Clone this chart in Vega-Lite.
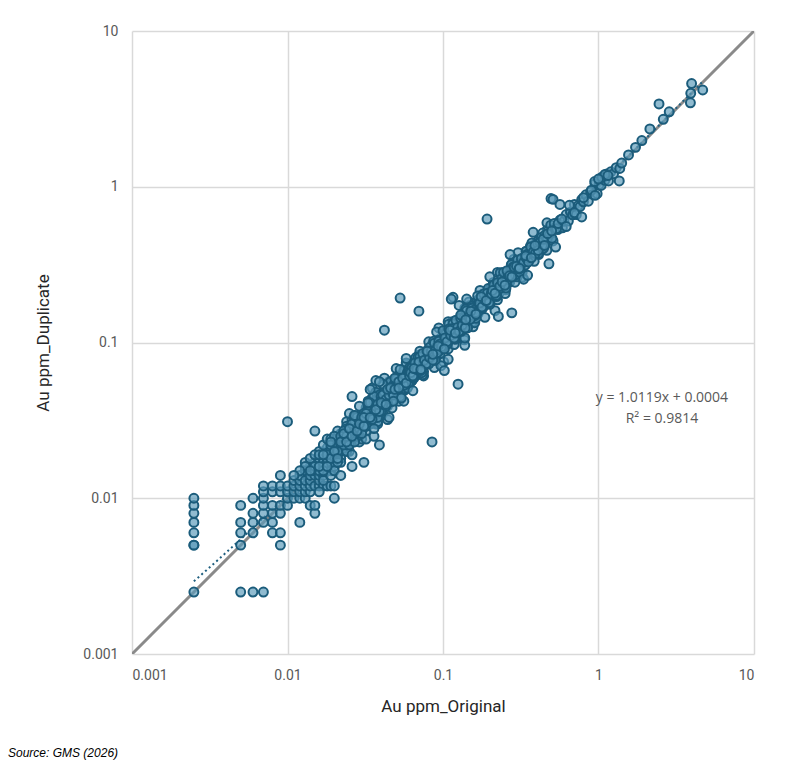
{
  "$schema": "https://vega.github.io/schema/vega-lite/v6.json",
  "width": 622,
  "height": 623,
  "autosize": {"type": "none"},
  "padding": {"left": 132, "top": 31, "right": 42, "bottom": 113},
  "background": "white",
  "title": {
    "text": "Source: GMS (2026)",
    "orient": "bottom",
    "anchor": "start",
    "frame": "group",
    "dx": -124,
    "offset": 34,
    "font": "Liberation Sans",
    "fontSize": 12,
    "fontStyle": "italic",
    "fontWeight": "normal",
    "color": "#000000"
  },
  "config": {
    "view": {"stroke": null},
    "axis": {
      "domain": false,
      "ticks": false,
      "grid": true,
      "gridColor": "#d9d9d9",
      "gridWidth": 1.5,
      "labelFont": "Roboto",
      "labelFontSize": 14,
      "labelColor": "#595959",
      "titleFont": "Roboto",
      "titleFontSize": 17,
      "titleFontWeight": "normal",
      "titleColor": "#262626"
    }
  },
  "datasets": {
    "pts": [
      {"x":0.0025,"y":0.0025},{"x":0.0025,"y":0.005},{"x":0.0025,"y":0.005},{"x":0.0025,"y":0.006},{"x":0.0025,"y":0.007},{"x":0.0025,"y":0.008},{"x":0.0025,"y":0.009},{"x":0.0025,"y":0.01},
      {"x":0.005,"y":0.0025},{"x":0.005,"y":0.005},{"x":0.005,"y":0.006},{"x":0.005,"y":0.007},{"x":0.005,"y":0.009},
      {"x":0.006,"y":0.0025},{"x":0.006,"y":0.006},{"x":0.006,"y":0.007},{"x":0.006,"y":0.008},{"x":0.006,"y":0.01},
      {"x":0.007,"y":0.0025},{"x":0.007,"y":0.007},{"x":0.007,"y":0.008},{"x":0.007,"y":0.009},{"x":0.007,"y":0.01},{"x":0.007,"y":0.011},{"x":0.007,"y":0.012},
      {"x":0.008,"y":0.006},{"x":0.008,"y":0.007},{"x":0.008,"y":0.008},{"x":0.008,"y":0.009},{"x":0.008,"y":0.011},{"x":0.008,"y":0.012},
      {"x":0.009,"y":0.005},{"x":0.009,"y":0.006},{"x":0.009,"y":0.008},{"x":0.009,"y":0.009},{"x":0.009,"y":0.011},{"x":0.009,"y":0.012},{"x":0.009,"y":0.014},
      {"x":0.01,"y":0.009},{"x":0.01,"y":0.01},{"x":0.01,"y":0.011},{"x":0.01,"y":0.012},{"x":0.01,"y":0.031},
      {"x":0.011,"y":0.01},{"x":0.011,"y":0.011},{"x":0.011,"y":0.012},{"x":0.011,"y":0.013},
      {"x":0.012,"y":0.007},{"x":0.012,"y":0.01},{"x":0.012,"y":0.011},{"x":0.012,"y":0.012},{"x":0.012,"y":0.013},{"x":0.012,"y":0.014},
      {"x":0.013,"y":0.01},{"x":0.013,"y":0.011},{"x":0.013,"y":0.012},{"x":0.013,"y":0.013},{"x":0.013,"y":0.015},
      {"x":0.014,"y":0.009},{"x":0.014,"y":0.011},{"x":0.014,"y":0.012},{"x":0.014,"y":0.013},{"x":0.014,"y":0.014},{"x":0.014,"y":0.016},
      {"x":0.015,"y":0.008},{"x":0.015,"y":0.009},{"x":0.015,"y":0.012},{"x":0.015,"y":0.014},{"x":0.015,"y":0.015},{"x":0.015,"y":0.017},{"x":0.015,"y":0.027},
      {"x":0.016,"y":0.012},{"x":0.016,"y":0.013},{"x":0.016,"y":0.014},{"x":0.016,"y":0.016},{"x":0.016,"y":0.018},
      {"x":0.017,"y":0.012},{"x":0.017,"y":0.014},{"x":0.017,"y":0.015},{"x":0.017,"y":0.017},{"x":0.017,"y":0.019},
      {"x":0.018,"y":0.012},{"x":0.018,"y":0.015},{"x":0.018,"y":0.016},{"x":0.018,"y":0.018},{"x":0.018,"y":0.02},{"x":0.018,"y":0.021},
      {"x":0.019,"y":0.012},{"x":0.019,"y":0.015},{"x":0.019,"y":0.017},{"x":0.019,"y":0.019},{"x":0.019,"y":0.021},
      {"x":0.02,"y":0.01},{"x":0.02,"y":0.012},{"x":0.02,"y":0.018},{"x":0.02,"y":0.02},{"x":0.02,"y":0.022},{"x":0.02,"y":0.025},
      {"x":0.013,"y":0.017},{"x":0.014,"y":0.018},{"x":0.016,"y":0.02},{"x":0.017,"y":0.022},{"x":0.018,"y":0.024},{"x":0.019,"y":0.024},{"x":0.02,"y":0.016},{"x":0.021,"y":0.018},{"x":0.021,"y":0.025},{"x":0.016,"y":0.011},
      {"x":0.017,"y":0.013},{"x":0.019,"y":0.014},{"x":0.013,"y":0.016},{"x":0.012,"y":0.015},{"x":0.011,"y":0.014},{"x":0.015,"y":0.019},{"x":0.02,"y":0.015},{"x":0.022,"y":0.018},{"x":0.023,"y":0.027},{"x":0.024,"y":0.031},
      {"x":0.025,"y":0.02},{"x":0.026,"y":0.032},{"x":0.019,"y":0.022},
      {"x":0.021,"y":0.02},{"x":0.022,"y":0.021},{"x":0.023,"y":0.023},{"x":0.024,"y":0.024},{"x":0.025,"y":0.026},{"x":0.026,"y":0.027},{"x":0.027,"y":0.026},{"x":0.028,"y":0.029},{"x":0.029,"y":0.031},{"x":0.03,"y":0.029},
      {"x":0.025,"y":0.025},{"x":0.023,"y":0.025},{"x":0.027,"y":0.025},{"x":0.029,"y":0.027},{"x":0.032,"y":0.031},{"x":0.018,"y":0.017},{"x":0.017,"y":0.016},{"x":0.016,"y":0.015},{"x":0.015,"y":0.016},{"x":0.014,"y":0.015},
      {"x":0.022,"y":0.026},{"x":0.024,"y":0.022},
      {"x":0.021,"y":0.021},{"x":0.022,"y":0.025},{"x":0.022,"y":0.02},{"x":0.023,"y":0.024},{"x":0.023,"y":0.022},{"x":0.024,"y":0.029},{"x":0.024,"y":0.02},{"x":0.025,"y":0.027},{"x":0.025,"y":0.024},{"x":0.026,"y":0.03},
      {"x":0.026,"y":0.023},{"x":0.027,"y":0.028},{"x":0.027,"y":0.034},{"x":0.028,"y":0.026},{"x":0.028,"y":0.031},{"x":0.029,"y":0.023},{"x":0.029,"y":0.029},{"x":0.03,"y":0.034},{"x":0.03,"y":0.027},{"x":0.031,"y":0.033},
      {"x":0.031,"y":0.029},{"x":0.032,"y":0.038},{"x":0.032,"y":0.027},{"x":0.033,"y":0.036},{"x":0.033,"y":0.032},{"x":0.034,"y":0.039},{"x":0.034,"y":0.03},{"x":0.035,"y":0.036},{"x":0.035,"y":0.044},{"x":0.036,"y":0.033},
      {"x":0.036,"y":0.04},{"x":0.037,"y":0.03},{"x":0.037,"y":0.037},{"x":0.038,"y":0.043},{"x":0.038,"y":0.034},{"x":0.039,"y":0.041},{"x":0.04,"y":0.038},{"x":0.04,"y":0.048},{"x":0.041,"y":0.035},{"x":0.042,"y":0.045},
      {"x":0.042,"y":0.041},{"x":0.043,"y":0.049},{"x":0.044,"y":0.039},{"x":0.044,"y":0.045},{"x":0.045,"y":0.056},{"x":0.046,"y":0.042},{"x":0.046,"y":0.051},{"x":0.047,"y":0.038},{"x":0.048,"y":0.048},{"x":0.048,"y":0.054},
      {"x":0.049,"y":0.044},{"x":0.05,"y":0.052},{"x":0.05,"y":0.048},{"x":0.051,"y":0.061},{"x":0.052,"y":0.044},{"x":0.053,"y":0.057},{"x":0.054,"y":0.052},{"x":0.055,"y":0.063},{"x":0.056,"y":0.049},{"x":0.057,"y":0.059},
      {"x":0.058,"y":0.072},{"x":0.059,"y":0.054},{"x":0.06,"y":0.066},
      {"x":0.021,"y":0.022},{"x":0.023,"y":0.021},{"x":0.024,"y":0.028},{"x":0.026,"y":0.026},{"x":0.027,"y":0.029},{"x":0.029,"y":0.025},{"x":0.03,"y":0.03},{"x":0.032,"y":0.036},{"x":0.033,"y":0.031},{"x":0.035,"y":0.037},
      {"x":0.036,"y":0.033},{"x":0.038,"y":0.045},{"x":0.039,"y":0.038},{"x":0.041,"y":0.045},{"x":0.043,"y":0.041},{"x":0.045,"y":0.046},{"x":0.047,"y":0.049},{"x":0.049,"y":0.046},{"x":0.051,"y":0.059},{"x":0.053,"y":0.052},
      {"x":0.055,"y":0.059},{"x":0.057,"y":0.05},{"x":0.059,"y":0.06},{"x":0.062,"y":0.07},{"x":0.064,"y":0.06},{"x":0.066,"y":0.07},{"x":0.068,"y":0.062},{"x":0.07,"y":0.083},
      {"x":0.021,"y":0.027},{"x":0.022,"y":0.017},{"x":0.023,"y":0.027},{"x":0.024,"y":0.02},{"x":0.025,"y":0.035},{"x":0.026,"y":0.019},{"x":0.027,"y":0.033},{"x":0.028,"y":0.025},{"x":0.029,"y":0.039},{"x":0.03,"y":0.024},
      {"x":0.031,"y":0.035},{"x":0.032,"y":0.024},{"x":0.033,"y":0.042},{"x":0.034,"y":0.03},{"x":0.035,"y":0.051},{"x":0.036,"y":0.025},{"x":0.037,"y":0.048},{"x":0.038,"y":0.03},{"x":0.039,"y":0.046},{"x":0.04,"y":0.034},
      {"x":0.042,"y":0.059},{"x":0.044,"y":0.032},{"x":0.046,"y":0.056},{"x":0.048,"y":0.043},{"x":0.05,"y":0.068},{"x":0.052,"y":0.042},{"x":0.054,"y":0.06},{"x":0.056,"y":0.042},{"x":0.058,"y":0.074},{"x":0.06,"y":0.053},
      {"x":0.022,"y":0.022},{"x":0.024,"y":0.025},{"x":0.025,"y":0.024},{"x":0.027,"y":0.031},{"x":0.028,"y":0.025},{"x":0.03,"y":0.031},{"x":0.031,"y":0.03},{"x":0.033,"y":0.036},{"x":0.034,"y":0.032},{"x":0.036,"y":0.042},
      {"x":0.037,"y":0.037},{"x":0.039,"y":0.041},{"x":0.04,"y":0.038},{"x":0.042,"y":0.047},{"x":0.043,"y":0.039},{"x":0.045,"y":0.046},{"x":0.047,"y":0.046},{"x":0.049,"y":0.053},{"x":0.05,"y":0.047},{"x":0.052,"y":0.06},
      {"x":0.054,"y":0.054},{"x":0.056,"y":0.059},{"x":0.058,"y":0.055},{"x":0.061,"y":0.069},{"x":0.063,"y":0.057},
      {"x":0.021,"y":0.02},{"x":0.022,"y":0.024},{"x":0.023,"y":0.023},{"x":0.024,"y":0.022},{"x":0.025,"y":0.028},{"x":0.026,"y":0.025},{"x":0.027,"y":0.028},{"x":0.028,"y":0.026},{"x":0.029,"y":0.028},{"x":0.03,"y":0.032},
      {"x":0.031,"y":0.031},{"x":0.032,"y":0.029},{"x":0.033,"y":0.037},{"x":0.034,"y":0.033},{"x":0.035,"y":0.036},{"x":0.036,"y":0.033},{"x":0.037,"y":0.036},{"x":0.038,"y":0.041},{"x":0.039,"y":0.039},{"x":0.04,"y":0.036},
      {"x":0.041,"y":0.046},{"x":0.042,"y":0.041},{"x":0.043,"y":0.045},{"x":0.044,"y":0.041},{"x":0.045,"y":0.043},{"x":0.046,"y":0.049},{"x":0.047,"y":0.047},{"x":0.048,"y":0.043},{"x":0.049,"y":0.055},{"x":0.05,"y":0.049},
      {"x":0.052,"y":0.054},{"x":0.054,"y":0.05},{"x":0.056,"y":0.054},{"x":0.058,"y":0.062},{"x":0.06,"y":0.061},{"x":0.062,"y":0.056},{"x":0.064,"y":0.072},{"x":0.066,"y":0.065},{"x":0.068,"y":0.071},{"x":0.07,"y":0.065},
      {"x":0.072,"y":0.069},{"x":0.075,"y":0.08},{"x":0.078,"y":0.079},{"x":0.081,"y":0.073},{"x":0.084,"y":0.094},{"x":0.087,"y":0.085},{"x":0.09,"y":0.094},{"x":0.093,"y":0.086},{"x":0.096,"y":0.092},{"x":0.099,"y":0.106},
      {"x":0.104,"y":0.109},{"x":0.108,"y":0.102},{"x":0.113,"y":0.124},{"x":0.117,"y":0.116},{"x":0.122,"y":0.111},{"x":0.127,"y":0.131},{"x":0.132,"y":0.149},{"x":0.137,"y":0.133},{"x":0.143,"y":0.15},{"x":0.149,"y":0.14},
      {"x":0.155,"y":0.171},{"x":0.161,"y":0.159},{"x":0.168,"y":0.153},{"x":0.174,"y":0.179},{"x":0.181,"y":0.205},{"x":0.189,"y":0.183},{"x":0.196,"y":0.206},{"x":0.204,"y":0.192},{"x":0.213,"y":0.234},{"x":0.221,"y":0.219},
      {"x":0.23,"y":0.209},{"x":0.24,"y":0.247},{"x":0.249,"y":0.281},{"x":0.26,"y":0.252},{"x":0.27,"y":0.284},{"x":0.281,"y":0.264},{"x":0.292,"y":0.321},{"x":0.304,"y":0.301},{"x":0.316,"y":0.288},{"x":0.329,"y":0.339},
      {"x":0.342,"y":0.386},{"x":0.356,"y":0.345},{"x":0.37,"y":0.389},{"x":0.385,"y":0.362},{"x":0.4,"y":0.44},{"x":0.417,"y":0.413},{"x":0.433,"y":0.394},{"x":0.451,"y":0.465},{"x":0.469,"y":0.53},{"x":0.488,"y":0.473},
      {"x":0.016,"y":0.019},{"x":0.017,"y":0.015},{"x":0.018,"y":0.019},{"x":0.019,"y":0.018},{"x":0.02,"y":0.025},{"x":0.021,"y":0.017},{"x":0.022,"y":0.025},{"x":0.023,"y":0.022},{"x":0.024,"y":0.025},{"x":0.025,"y":0.022},
      {"x":0.026,"y":0.03},{"x":0.027,"y":0.023},{"x":0.028,"y":0.033},{"x":0.03,"y":0.026},{"x":0.032,"y":0.034},{"x":0.034,"y":0.032},{"x":0.036,"y":0.045},{"x":0.038,"y":0.031},{"x":0.04,"y":0.045},{"x":0.042,"y":0.04},
      {"x":0.044,"y":0.045},{"x":0.047,"y":0.042},{"x":0.05,"y":0.058},{"x":0.053,"y":0.045},{"x":0.056,"y":0.066},{"x":0.059,"y":0.051},{"x":0.063,"y":0.067},{"x":0.067,"y":0.062},{"x":0.071,"y":0.088},{"x":0.075,"y":0.061},
      {"x":0.08,"y":0.09},{"x":0.085,"y":0.082},{"x":0.09,"y":0.093},{"x":0.096,"y":0.085},{"x":0.102,"y":0.117},{"x":0.108,"y":0.091},{"x":0.115,"y":0.136},{"x":0.122,"y":0.105},{"x":0.13,"y":0.139},{"x":0.138,"y":0.128},
      {"x":0.147,"y":0.182},{"x":0.156,"y":0.126},{"x":0.166,"y":0.186},{"x":0.176,"y":0.169},{"x":0.187,"y":0.193},{"x":0.199,"y":0.177},{"x":0.211,"y":0.243},{"x":0.224,"y":0.188},{"x":0.238,"y":0.281},{"x":0.253,"y":0.218},
      {"x":0.269,"y":0.288},{"x":0.286,"y":0.266},{"x":0.304,"y":0.377},{"x":0.323,"y":0.262},{"x":0.343,"y":0.384},{"x":0.365,"y":0.35},{"x":0.388,"y":0.4},{"x":0.412,"y":0.367},{"x":0.438,"y":0.504},{"x":0.466,"y":0.391},
      {"x":0.016,"y":0.016},{"x":0.017,"y":0.019},{"x":0.018,"y":0.016},{"x":0.019,"y":0.023},{"x":0.02,"y":0.02},{"x":0.021,"y":0.018},{"x":0.022,"y":0.023},{"x":0.023,"y":0.026},{"x":0.024,"y":0.023},{"x":0.025,"y":0.028},
      {"x":0.026,"y":0.025},{"x":0.027,"y":0.034},{"x":0.028,"y":0.027},{"x":0.03,"y":0.033},{"x":0.032,"y":0.029},{"x":0.034,"y":0.041},{"x":0.036,"y":0.036},{"x":0.038,"y":0.033},{"x":0.04,"y":0.042},{"x":0.042,"y":0.048},
      {"x":0.044,"y":0.041},{"x":0.047,"y":0.052},{"x":0.05,"y":0.049},{"x":0.053,"y":0.067},{"x":0.056,"y":0.054},{"x":0.059,"y":0.064},{"x":0.063,"y":0.057},{"x":0.067,"y":0.08},{"x":0.071,"y":0.072},{"x":0.075,"y":0.065},
      {"x":0.08,"y":0.084},{"x":0.085,"y":0.097},{"x":0.09,"y":0.085},{"x":0.096,"y":0.106},{"x":0.102,"y":0.1},{"x":0.108,"y":0.136},{"x":0.115,"y":0.112},{"x":0.122,"y":0.133},{"x":0.13,"y":0.118},{"x":0.138,"y":0.166},
      {"x":0.147,"y":0.148},{"x":0.156,"y":0.136},{"x":0.166,"y":0.174},{"x":0.176,"y":0.201},{"x":0.187,"y":0.176},{"x":0.199,"y":0.219},{"x":0.211,"y":0.207},{"x":0.224,"y":0.282},{"x":0.238,"y":0.231},{"x":0.253,"y":0.276},
      {"x":0.269,"y":0.245},{"x":0.286,"y":0.343},{"x":0.304,"y":0.307},{"x":0.323,"y":0.281},{"x":0.343,"y":0.36},{"x":0.365,"y":0.416},{"x":0.388,"y":0.365},{"x":0.412,"y":0.453},{"x":0.438,"y":0.429},{"x":0.466,"y":0.587},
      {"x":0.029,"y":0.03},{"x":0.031,"y":0.029},{"x":0.033,"y":0.036},{"x":0.035,"y":0.035},{"x":0.037,"y":0.039},{"x":0.039,"y":0.036},{"x":0.041,"y":0.046},{"x":0.043,"y":0.043},{"x":0.045,"y":0.046},{"x":0.048,"y":0.046},
      {"x":0.051,"y":0.055},{"x":0.054,"y":0.053},{"x":0.057,"y":0.06},{"x":0.06,"y":0.055},{"x":0.065,"y":0.072},{"x":0.069,"y":0.069},{"x":0.073,"y":0.074},{"x":0.077,"y":0.073},{"x":0.082,"y":0.089},{"x":0.087,"y":0.086},
      {"x":0.093,"y":0.098},{"x":0.099,"y":0.091},{"x":0.105,"y":0.117},{"x":0.112,"y":0.112},{"x":0.119,"y":0.121},{"x":0.126,"y":0.12},{"x":0.134,"y":0.145},{"x":0.143,"y":0.142},{"x":0.152,"y":0.16},{"x":0.161,"y":0.148},
      {"x":0.171,"y":0.19},{"x":0.182,"y":0.182},{"x":0.194,"y":0.198},{"x":0.206,"y":0.196},{"x":0.218,"y":0.235},{"x":0.232,"y":0.23},{"x":0.246,"y":0.258},{"x":0.262,"y":0.241},{"x":0.278,"y":0.309},{"x":0.296,"y":0.296},
      {"x":0.033,"y":0.041},{"x":0.036,"y":0.028},{"x":0.041,"y":0.054},{"x":0.045,"y":0.033},{"x":0.049,"y":0.059},{"x":0.054,"y":0.044},{"x":0.058,"y":0.079},{"x":0.064,"y":0.049},{"x":0.069,"y":0.08},{"x":0.074,"y":0.062},
      {"x":0.081,"y":0.101},{"x":0.088,"y":0.069},{"x":0.094,"y":0.124},{"x":0.101,"y":0.075},{"x":0.109,"y":0.131},{"x":0.118,"y":0.097},{"x":0.127,"y":0.173},{"x":0.137,"y":0.104},{"x":0.148,"y":0.172},{"x":0.16,"y":0.134},
      {"x":0.173,"y":0.216},{"x":0.186,"y":0.145},{"x":0.2,"y":0.264},{"x":0.216,"y":0.16},{"x":0.233,"y":0.28},{"x":0.251,"y":0.206},{"x":0.27,"y":0.367},{"x":0.29,"y":0.244},
      {"x":0.032,"y":0.035},{"x":0.035,"y":0.032},{"x":0.038,"y":0.04},{"x":0.041,"y":0.04},{"x":0.044,"y":0.05},{"x":0.048,"y":0.042},{"x":0.052,"y":0.056},{"x":0.056,"y":0.053},{"x":0.06,"y":0.066},{"x":0.065,"y":0.059},
      {"x":0.07,"y":0.073},{"x":0.076,"y":0.074},{"x":0.082,"y":0.093},{"x":0.088,"y":0.077},{"x":0.095,"y":0.102},{"x":0.103,"y":0.097},{"x":0.111,"y":0.122},{"x":0.12,"y":0.109},{"x":0.13,"y":0.135},{"x":0.14,"y":0.136},
      {"x":0.151,"y":0.172},{"x":0.163,"y":0.143},{"x":0.176,"y":0.188},{"x":0.19,"y":0.179},{"x":0.205,"y":0.226},{"x":0.221,"y":0.201},{"x":0.238,"y":0.248},{"x":0.257,"y":0.249},{"x":0.277,"y":0.316},{"x":0.3,"y":0.264},
      {"x":0.325,"y":0.348},{"x":0.35,"y":0.329},{"x":0.38,"y":0.418},{"x":0.41,"y":0.373},{"x":0.44,"y":0.458},{"x":0.48,"y":0.466},
      {"x":0.031,"y":0.033},{"x":0.034,"y":0.033},{"x":0.037,"y":0.037},{"x":0.04,"y":0.041},{"x":0.043,"y":0.04},{"x":0.046,"y":0.051},{"x":0.049,"y":0.05},{"x":0.052,"y":0.051},{"x":0.055,"y":0.059},{"x":0.058,"y":0.055},
      {"x":0.061,"y":0.065},{"x":0.064,"y":0.062},{"x":0.067,"y":0.067},{"x":0.07,"y":0.072},{"x":0.074,"y":0.07},{"x":0.078,"y":0.086},{"x":0.082,"y":0.084},{"x":0.086,"y":0.085},{"x":0.09,"y":0.097},{"x":0.095,"y":0.09},
      {"x":0.1,"y":0.106},{"x":0.105,"y":0.102},{"x":0.11,"y":0.11},{"x":0.116,"y":0.119},{"x":0.122,"y":0.115},{"x":0.128,"y":0.141},{"x":0.135,"y":0.138},{"x":0.142,"y":0.141},{"x":0.15,"y":0.162},
      {"x":0.026,"y":0.045},{"x":0.034,"y":0.05},{"x":0.031,"y":0.017},{"x":0.026,"y":0.016},{"x":0.022,"y":0.014},{"x":0.039,"y":0.022},{"x":0.042,"y":0.12},{"x":0.053,"y":0.193},{"x":0.07,"y":0.159},{"x":0.037,"y":0.057},
      {"x":0.039,"y":0.056},{"x":0.085,"y":0.023},{"x":0.125,"y":0.054},{"x":0.097,"y":0.071},{"x":0.102,"y":0.066},{"x":0.108,"y":0.078},{"x":0.138,"y":0.096},{"x":0.138,"y":0.107},{"x":0.091,"y":0.117},
      {"x":0.061,"y":0.061},{"x":0.063,"y":0.069},{"x":0.065,"y":0.06},{"x":0.067,"y":0.07},{"x":0.069,"y":0.066},{"x":0.071,"y":0.081},{"x":0.073,"y":0.064},{"x":0.075,"y":0.077},{"x":0.077,"y":0.075},{"x":0.079,"y":0.088},
      {"x":0.081,"y":0.073},{"x":0.083,"y":0.088},{"x":0.085,"y":0.08},{"x":0.087,"y":0.102},{"x":0.089,"y":0.077},{"x":0.091,"y":0.094},{"x":0.093,"y":0.09},{"x":0.095,"y":0.103},{"x":0.097,"y":0.09},{"x":0.099,"y":0.1},
      {"x":0.101,"y":0.101},{"x":0.104,"y":0.113},{"x":0.107,"y":0.098},{"x":0.11,"y":0.116},{"x":0.113,"y":0.108},{"x":0.116,"y":0.132},{"x":0.119,"y":0.105},{"x":0.122,"y":0.124},{"x":0.125,"y":0.123},{"x":0.128,"y":0.142},
      {"x":0.131,"y":0.118},{"x":0.134,"y":0.142},{"x":0.137,"y":0.129},{"x":0.14,"y":0.164},{"x":0.144,"y":0.124},{"x":0.148,"y":0.152},{"x":0.152,"y":0.147},{"x":0.156,"y":0.168},{"x":0.16,"y":0.149},{"x":0.165,"y":0.167},
      {"x":0.17,"y":0.17},{"x":0.175,"y":0.191},{"x":0.18,"y":0.166},{"x":0.185,"y":0.194},{"x":0.19,"y":0.182},{"x":0.195,"y":0.222},{"x":0.2,"y":0.176},
      {"x":0.062,"y":0.064},{"x":0.064,"y":0.061},{"x":0.066,"y":0.074},{"x":0.068,"y":0.067},{"x":0.07,"y":0.075},{"x":0.072,"y":0.066},{"x":0.074,"y":0.085},{"x":0.076,"y":0.077},{"x":0.078,"y":0.073},{"x":0.08,"y":0.088},
      {"x":0.082,"y":0.08},{"x":0.084,"y":0.088},{"x":0.086,"y":0.077},{"x":0.088,"y":0.099},{"x":0.09,"y":0.09},{"x":0.092,"y":0.086},{"x":0.094,"y":0.102},{"x":0.096,"y":0.098},{"x":0.098,"y":0.094},{"x":0.1,"y":0.119},
      {"x":0.103,"y":0.107},{"x":0.106,"y":0.101},{"x":0.109,"y":0.122},{"x":0.112,"y":0.111},{"x":0.115,"y":0.123},{"x":0.118,"y":0.107},{"x":0.121,"y":0.139},{"x":0.124,"y":0.125},{"x":0.127,"y":0.118},{"x":0.13,"y":0.143},
      {"x":0.133,"y":0.129},{"x":0.136,"y":0.143},{"x":0.139,"y":0.124},{"x":0.142,"y":0.16},{"x":0.146,"y":0.146},{"x":0.15,"y":0.141},{"x":0.154,"y":0.166},{"x":0.158,"y":0.161},{"x":0.162,"y":0.156},{"x":0.167,"y":0.199},
      {"x":0.172,"y":0.179},{"x":0.178,"y":0.169},{"x":0.183,"y":0.205},{"x":0.188,"y":0.186},{"x":0.193,"y":0.207},{"x":0.198,"y":0.18},
      {"x":0.065,"y":0.068},{"x":0.072,"y":0.067},{"x":0.079,"y":0.088},{"x":0.086,"y":0.084},{"x":0.093,"y":0.095},{"x":0.102,"y":0.091},{"x":0.111,"y":0.12},{"x":0.12,"y":0.115},{"x":0.13,"y":0.15},{"x":0.14,"y":0.14},
      {"x":0.151,"y":0.159},{"x":0.163,"y":0.152},{"x":0.176,"y":0.197},{"x":0.19,"y":0.186},{"x":0.205,"y":0.209},{"x":0.221,"y":0.197},{"x":0.238,"y":0.257},{"x":0.256,"y":0.246},{"x":0.275,"y":0.316},{"x":0.295,"y":0.295},
      {"x":0.316,"y":0.332},{"x":0.338,"y":0.314},
      {"x":0.116,"y":0.195},{"x":0.113,"y":0.19},{"x":0.142,"y":0.19},{"x":0.192,"y":0.62},
      {"x":0.205,"y":0.205},{"x":0.212,"y":0.233},{"x":0.22,"y":0.2},{"x":0.228,"y":0.239},{"x":0.236,"y":0.224},{"x":0.245,"y":0.282},{"x":0.254,"y":0.224},{"x":0.263,"y":0.271},{"x":0.272,"y":0.264},{"x":0.282,"y":0.305},
      {"x":0.292,"y":0.272},{"x":0.302,"y":0.338},{"x":0.313,"y":0.282},{"x":0.324,"y":0.33},{"x":0.336,"y":0.329},{"x":0.348,"y":0.369},{"x":0.36,"y":0.338},{"x":0.373,"y":0.436},{"x":0.386,"y":0.332},{"x":0.4,"y":0.404},
      {"x":0.414,"y":0.414},{"x":0.429,"y":0.472},{"x":0.444,"y":0.404},{"x":0.46,"y":0.483},{"x":0.476,"y":0.452},{"x":0.493,"y":0.567},{"x":0.51,"y":0.449},{"x":0.528,"y":0.544},{"x":0.547,"y":0.531},{"x":0.566,"y":0.611},
      {"x":0.586,"y":0.545},
      {"x":0.208,"y":0.216},{"x":0.216,"y":0.207},{"x":0.224,"y":0.242},{"x":0.232,"y":0.23},{"x":0.24,"y":0.245},{"x":0.25,"y":0.233},{"x":0.258,"y":0.289},{"x":0.268,"y":0.268},{"x":0.277,"y":0.263},{"x":0.287,"y":0.304},
      {"x":0.297,"y":0.309},{"x":0.308,"y":0.296},{"x":0.319,"y":0.345},{"x":0.33,"y":0.327},{"x":0.342,"y":0.349},{"x":0.354,"y":0.329},{"x":0.367,"y":0.411},{"x":0.38,"y":0.38},{"x":0.393,"y":0.373},{"x":0.407,"y":0.431},
      {"x":0.421,"y":0.438},{"x":0.436,"y":0.419},{"x":0.452,"y":0.488},{"x":0.468,"y":0.463},{"x":0.485,"y":0.495},{"x":0.502,"y":0.467},{"x":0.519,"y":0.581},{"x":0.537,"y":0.537},
      {"x":0.31,"y":0.3},{"x":0.34,"y":0.36},{"x":0.37,"y":0.35},{"x":0.41,"y":0.39},{"x":0.44,"y":0.46},{"x":0.47,"y":0.5},{"x":0.5,"y":0.52},{"x":0.55,"y":0.58},{"x":0.45,"y":0.42},{"x":0.39,"y":0.42},
      {"x":0.227,"y":0.147},{"x":0.277,"y":0.155},{"x":0.48,"y":0.32},{"x":0.495,"y":0.84},{"x":0.51,"y":0.83},{"x":0.565,"y":0.77},{"x":0.38,"y":0.51},{"x":0.53,"y":0.41},{"x":0.33,"y":0.255},{"x":0.35,"y":0.27},
      {"x":0.6,"y":0.6},{"x":0.62,"y":0.663},{"x":0.64,"y":0.602},{"x":0.66,"y":0.686},{"x":0.68,"y":0.66},{"x":0.7,"y":0.77},{"x":0.72,"y":0.662},{"x":0.74,"y":0.755},{"x":0.76,"y":0.745},{"x":0.78,"y":0.827},
      {"x":0.8,"y":0.8},{"x":0.83,"y":0.888},{"x":0.86,"y":0.808},{"x":0.89,"y":0.926},{"x":0.92,"y":0.892},{"x":0.95,"y":1.045},{"x":0.98,"y":0.902},{"x":1.01,"y":1.03},{"x":1.04,"y":1.019},{"x":1.07,"y":1.134},
      {"x":1.1,"y":1.1},{"x":1.13,"y":1.209},{"x":1.16,"y":1.09},{"x":1.2,"y":1.248},{"x":1.25,"y":1.213},{"x":1.3,"y":1.326},
      {"x":0.65,"y":0.76},{"x":0.9,"y":0.95},{"x":0.95,"y":0.88},{"x":0.945,"y":1.08},{"x":1.36,"y":1.09},{"x":1.37,"y":1.31},{"x":1.41,"y":1.42},{"x":1.56,"y":1.6},{"x":1.73,"y":1.79},{"x":1.9,"y":1.98},
      {"x":2.14,"y":2.35},{"x":2.45,"y":3.4},{"x":2.61,"y":2.71},{"x":2.85,"y":3.03},{"x":3.9,"y":3.46},{"x":3.92,"y":3.98},{"x":3.97,"y":4.6},{"x":4.68,"y":4.18},{"x":1.05,"y":1.15},{"x":1.1,"y":1.2},
      {"x":1.15,"y":1.18},{"x":1.0,"y":1.12},{"x":0.58,"y":0.62},{"x":0.7,"y":0.68},{"x":0.8,"y":0.85},{"x":0.78,"y":0.64},{"x":0.62,"y":0.555}
    ],
    "oneone": [{"x":0.001,"y":0.001},{"x":10,"y":10}],
    "trend": [
      {"x":0.0025,"y":0.00293},{"x":0.003,"y":0.00344},{"x":0.004,"y":0.00445},{"x":0.005,"y":0.00546},{"x":0.007,"y":0.00748},
      {"x":0.01,"y":0.01052},{"x":0.02,"y":0.02064},{"x":0.05,"y":0.051},{"x":0.1,"y":0.10159},{"x":0.5,"y":0.5064},{"x":1,"y":1.0123},{"x":4.7,"y":4.7563}
    ],
    "eq": [
      {"x":2.56,"y":0.044,"label":"y = 1.0119x + 0.0004"},
      {"x":2.56,"y":0.0323,"label":"R² = 0.9814"}
    ]
  },
  "encoding": {
    "x": {
      "field": "x", "type": "quantitative",
      "scale": {"type": "log", "domain": [0.001, 10], "nice": false},
      "axis": {"values": [0.001, 0.01, 0.1, 1, 10], "format": "~g", "title": "Au ppm_Original", "labelPadding": 14, "titlePadding": 16}
    },
    "y": {
      "field": "y", "type": "quantitative",
      "scale": {"type": "log", "domain": [0.001, 10], "nice": false},
      "axis": {"values": [0.001, 0.01, 0.1, 1, 10], "format": "~g", "title": "Au ppm_Duplicate", "labelPadding": 14, "titlePadding": 30}
    }
  },
  "layer": [
    {
      "data": {"name": "oneone"},
      "mark": {"type": "line", "color": "#8a8a8a", "strokeWidth": 3, "clip": true},
      "encoding": {}
    },
    {
      "data": {"name": "trend"},
      "mark": {"type": "line", "color": "#1f5f7f", "strokeWidth": 2, "strokeDash": [2, 3], "interpolate": "monotone"},
      "encoding": {}
    },
    {
      "data": {"name": "pts"},
      "mark": {"type": "point", "shape": "circle", "filled": true, "size": 80, "fill": "#5c9bb9", "fillOpacity": 0.68, "stroke": "#1b5c7b", "strokeWidth": 2},
      "encoding": {}
    },
    {
      "data": {"name": "eq"},
      "mark": {"type": "text", "font": "Open Sans", "fontSize": 14, "color": "#595959", "align": "center", "baseline": "middle"},
      "encoding": {
        "text": {"field": "label", "type": "nominal"}
      }
    }
  ]
}
